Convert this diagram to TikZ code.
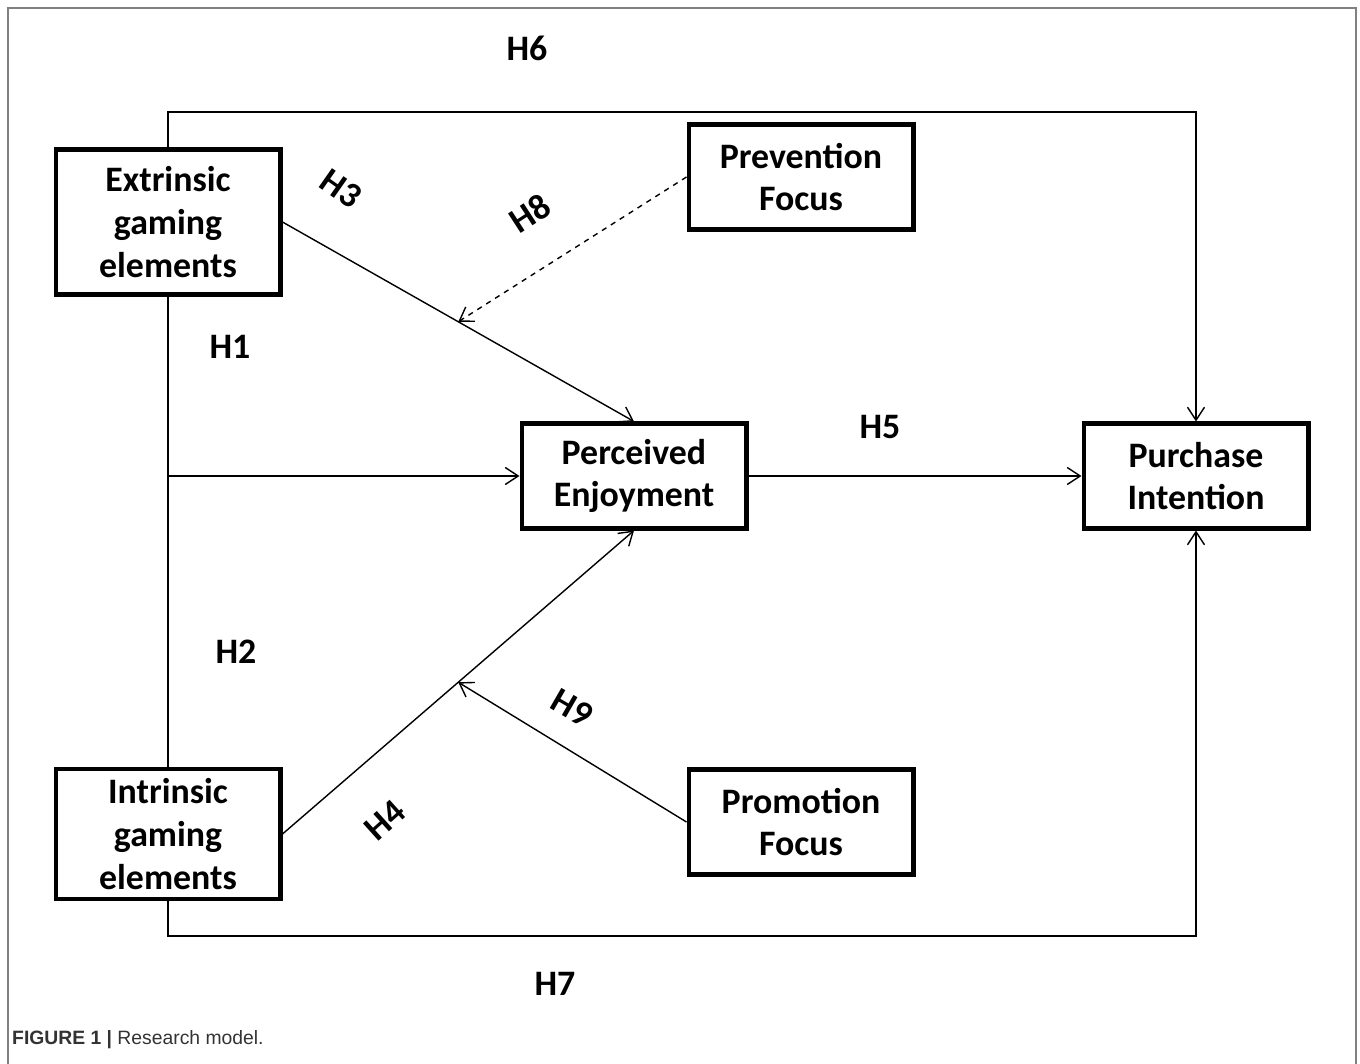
\documentclass[tikz,border=0pt]{standalone}
\usepackage{fontspec}
\setmainfont{Carlito}
\newfontfamily\capfont{Liberation Sans}
\usetikzlibrary{arrows.meta, calc, positioning}

\tikzset{
  factor/.style={draw, line width=2.3pt, align=center, minimum width=4.5cm,
    font=\bfseries\fontsize{20.4}{24.4}\selectfont},
  hyp/.style={font=\bfseries\fontsize{20.4}{24.4}\selectfont},
  link/.style={line width=0.8pt, -{Straight Barb[length=2.6mm, width=3.4mm, line width=0.8pt]}}
}

\begin{document}
\begin{tikzpicture}[x=0.02cm, y=-0.02cm]
        \useasboundingbox (0,0) rectangle (1360,1064);
        \draw[gray, line width=1.2pt] (8,1064) -- (8,8) -- (1356,8) -- (1356,1064);

        \node[factor, minimum height=2.9cm] (ext) at (168,222) {Extrinsic\\gaming\\elements};
        \node[factor, minimum height=2.6cm] (int) at (168,834) {Intrinsic\\gaming\\elements};
        \node[factor, minimum height=2.1cm] (pe) at (634,476) {Perceived\\Enjoyment};
        \node[factor, minimum height=2.1cm] (pi) at (1196,476) {Purchase\\Intention};
        \node[factor, minimum height=2.1cm] (prev) at (801,177) {Prevention\\Focus};
        \node[factor, minimum height=2.1cm] (prom) at (801,822) {Promotion\\Focus};

        \coordinate (top) at (168,112);
        \coordinate (bot) at (168,936);
        \coordinate (split) at (168,476);
        \coordinate (m3) at ($(ext.east)!0.5!(pe.north)$);
        \coordinate (m4) at ($(int.east)!0.5!(pe.south)$);

        % direct paths
        \draw[link] (ext.north) -- (top) -| (pi.north);
        \draw[link] (int.south) -- (bot) -| (pi.south);
        \draw[line width=0.8pt] (ext.south) -- (int.north);
        \draw[link] (split) -- (pe.west);
        \draw[link] (ext.east) -- (pe.north);
        \draw[link] (int.east) -- (pe.south);
        \draw[link] (pe.east) -- (pi.west);

        % moderators
        \draw[link, dashed] (prev.west) -- (m3);
        \draw[link] (prom.west) -- (m4);

        \node[hyp] (h6) at (527,48) {H6};
        \node[hyp, rotate=-35] (h3) at (341,189) {H3};
        \node[hyp, rotate=33] (h8) at (530,213) {H8};
        \node[hyp] (h1) at (230,347) {H1};
        \node[hyp] (h5) at (880,427) {H5};
        \node[hyp] (h2) at (236,652) {H2};
        \node[hyp, rotate=-30] (h9) at (572,708) {H9};
        \node[hyp, rotate=42] (h4) at (385,820) {H4};
        \node[hyp] (h7) at (555,984) {H7};

        \node[anchor=west, text=black!80, font=\capfont\fontsize{11}{13}\selectfont] (cap) at (6,1040)
            {\textbf{FIGURE 1 |} Research model.};
\end{tikzpicture}
\end{document}
